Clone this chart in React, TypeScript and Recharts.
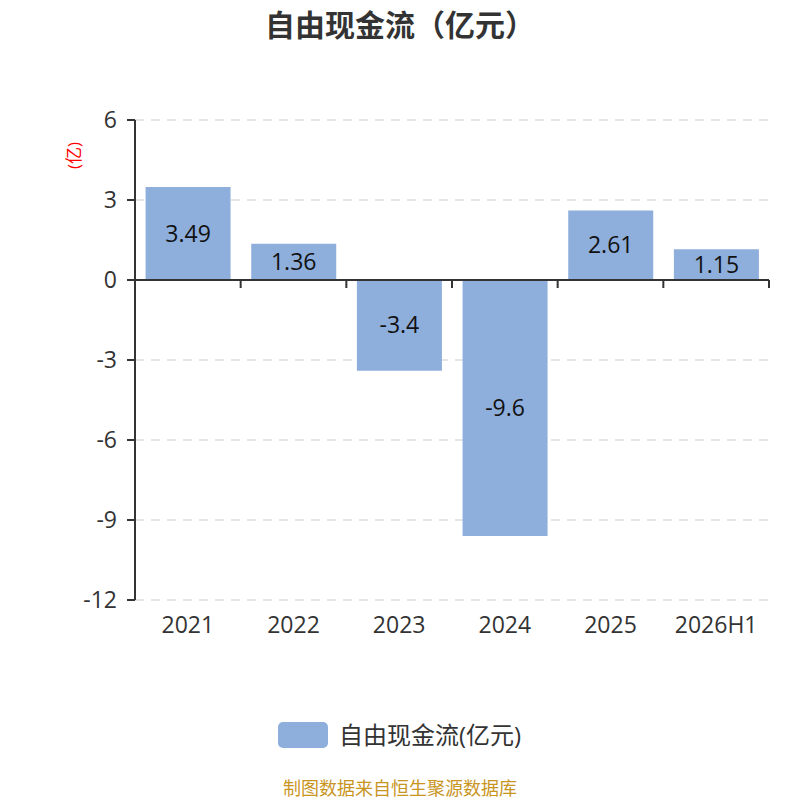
import React from 'react'
import {
  BarChart,
  Bar,
  XAxis,
  YAxis,
  CartesianGrid,
  ReferenceLine,
  LabelList,
} from 'recharts'

const categories = ['2021', '2022', '2023', '2024', '2025', '2026H1']
const freeCashFlow = [3.49, 1.36, -3.4, -9.6, 2.61, 1.15]
const yTicks = [-12, -9, -6, -3, 0, 3, 6]

const FONT = '"Open Sans", "Noto Sans CJK SC", sans-serif'
const CJK_FONT = '"Noto Sans CJK SC", sans-serif'
const BAR_COLOR = '#8eaedb'

const data = categories.map((year, i) => ({ year, value: freeCashFlow[i] }))

// zero line drawn as an axis, with category boundary ticks hanging below it
function ZeroAxis(props: any) {
  const { x1, y1, x2, y2 } = props
  const step = (x2 - x1) / categories.length
  const ticks = []
  for (let i = 0; i <= categories.length; i++) {
    const tx = x1 + step * i
    ticks.push(<line key={i} x1={tx} y1={y1} x2={tx} y2={y1 + 8} stroke="#333" strokeWidth={2} />)
  }
  return (
    <g>
      <line x1={x1} y1={y1} x2={x2} y2={y2} stroke="#333" strokeWidth={2} />
      {ticks}
    </g>
  )
}

export default function App() {
  return (
    <div
      style={{
        position: 'absolute',
        left: 0,
        top: 0,
        width: 800,
        height: 800,
        background: '#fff',
        fontFamily: CJK_FONT,
        overflow: 'hidden',
      }}
    >
      <div
        style={{
          position: 'absolute',
          top: 3,
          left: 0,
          width: 800,
          textAlign: 'center',
          fontSize: 30,
          fontWeight: 700,
          color: '#333',
          lineHeight: '40px',
        }}
      >
        自由现金流（亿元）
      </div>
      <div
        style={{
          position: 'absolute',
          left: 61,
          top: 143,
          width: 26,
          height: 26,
          fontSize: 17,
          color: 'red',
          transform: 'rotate(-90deg)',
          lineHeight: '26px',
          textAlign: 'center',
          fontFamily: FONT,
        }}
      >
        (亿)
      </div>
      <BarChart
        width={800}
        height={800}
        data={data}
        margin={{ top: 120, right: 31, bottom: 170, left: 75 }}
        barCategoryGap="10%"
        style={{ position: 'absolute', left: 0, top: 0 }}
      >
        <CartesianGrid vertical={false} stroke="#ccc" strokeDasharray="9 7" />
        <XAxis
          dataKey="year"
          axisLine={false}
          tickLine={false}
          tickSize={0}
          tickMargin={17}
          height={30}
          interval={0}
          tick={{ fontSize: 23, fill: '#333', fontFamily: FONT }}
        />
        <YAxis
          domain={[-12, 6]}
          ticks={yTicks}
          width={60}
          axisLine={{ stroke: '#333', strokeWidth: 2 }}
          tickLine={{ stroke: '#333', strokeWidth: 2 }}
          tickSize={8}
          tickMargin={10}
          tick={{ fontSize: 23, fill: '#333', fontFamily: FONT }}
        />
        <Bar dataKey="value" fill={BAR_COLOR} isAnimationActive={false}>
          <LabelList
            dataKey="value"
            position="center"
            fill="#111"
            fontSize={23}
            fontFamily={FONT}
          />
        </Bar>
        <ReferenceLine y={0} shape={ZeroAxis} />
      </BarChart>
      <div
        style={{
          position: 'absolute',
          top: 722,
          left: 278,
          width: 50,
          height: 26,
          borderRadius: 5,
          background: BAR_COLOR,
        }}
      />
      <div
        style={{
          position: 'absolute',
          top: 719,
          left: 339,
          fontSize: 24,
          color: '#333',
          lineHeight: '32px',
          fontFamily: FONT,
          whiteSpace: 'nowrap',
        }}
      >
        自由现金流(亿元)
      </div>
      <div
        style={{
          position: 'absolute',
          top: 775,
          left: 0,
          width: 800,
          textAlign: 'center',
          fontSize: 18,
          color: '#c8951f',
          lineHeight: '24px',
        }}
      >
        制图数据来自恒生聚源数据库
      </div>
    </div>
  )
}
